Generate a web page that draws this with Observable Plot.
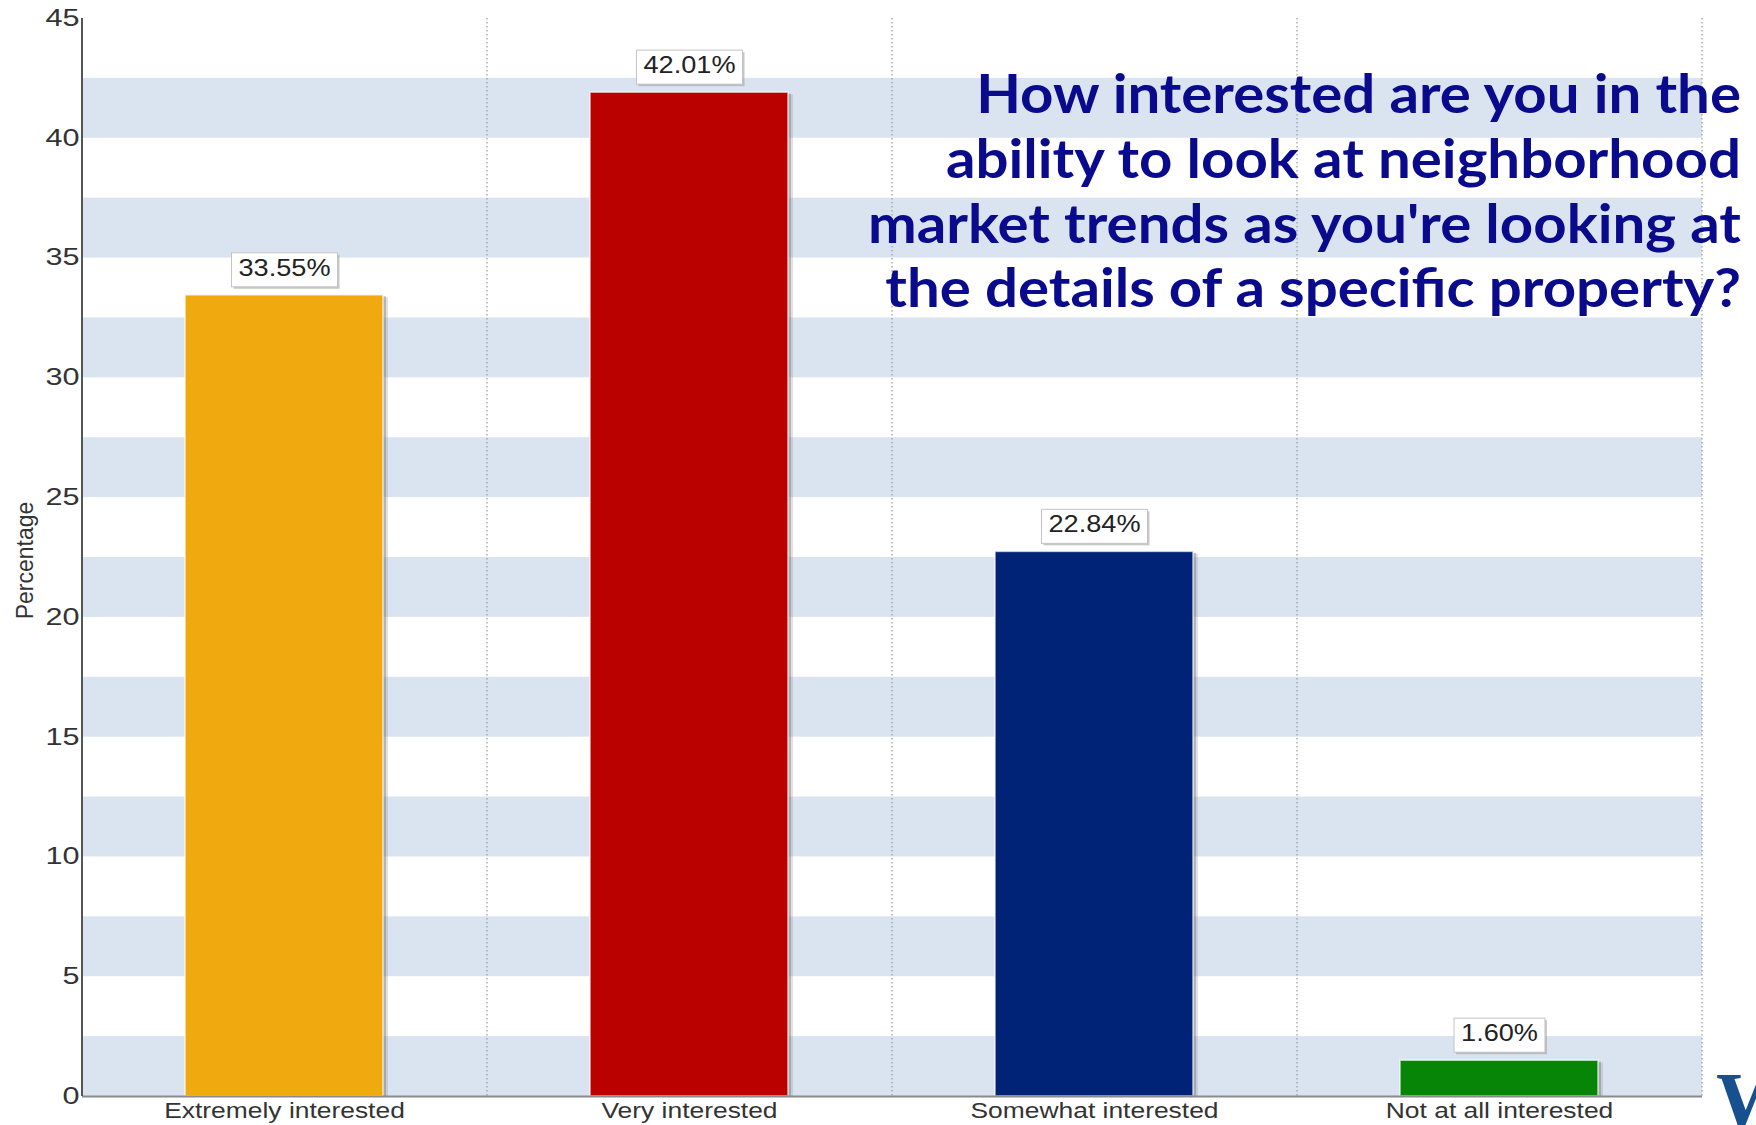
<!DOCTYPE html>
<html><head><meta charset="utf-8">
<script src="https://cdn.jsdelivr.net/npm/d3@7"></script>
<script src="https://cdn.jsdelivr.net/npm/@observablehq/plot@0.6"></script>
<style>
html,body{margin:0;padding:0;background:#fff;}
#wrap{position:relative;width:1756px;height:1125px;overflow:hidden;}
#wrap svg{display:block;}
#overlay{position:absolute;left:0;top:0;pointer-events:none;}
</style></head><body>
<div id="wrap"></div>
<script>
const categories = ["Extremely interested", "Very interested", "Somewhat interested", "Not at all interested"];
const values = [33.55, 42.01, 22.84, 1.60];
const barColors = ["#F0AA0F", "#BB0000", "#002378", "#078507"];
const yTicks = [0, 5, 10, 15, 20, 25, 30, 35, 40, 45];
const stripeStarts = [0, 5, 10, 15, 20, 25, 30, 35, 40];
const stripeHeight = 2.5;
const yLabel = "Percentage";
const titleLines = [
  "How interested are you in the",
  "ability to look at neighborhood",
  "market trends as you're looking at",
  "the details of a specific property?"
];
const logoText = "W";

const data = categories.map((c, i) => ({category: c, value: values[i], color: barColors[i], label: values[i].toFixed(2) + "%"}));

// shift a band-positioned rule to a band boundary (in multiples of the band step)
function shiftToBoundary(steps) {
  return (index, scales, vals, dims, ctx, next) => {
    const step = scales.x(categories[1]) - scales.x(categories[0]);
    const x = Array.from(vals.x, v => v + step * steps);
    return next(index, scales, {...vals, x}, dims, ctx);
  };
}

const chart = Plot.plot({
  width: 1756, height: 1125,
  marginTop: 18, marginBottom: 29, marginLeft: 82, marginRight: 54,
  style: {fontFamily: "'Liberation Sans', Arial, sans-serif", background: "transparent"},
  x: {type: "band", domain: categories, paddingInner: 0.51, paddingOuter: 0.255},
  y: {domain: [0, 45]},
  color: {type: "identity"},
  marks: [
    Plot.rect(stripeStarts, {y1: d => d, y2: d => d + stripeHeight, fill: "#D9E4F0"}),
    Plot.ruleX(categories, {x: d => d, stroke: "#9a9a9a", strokeDasharray: "1.5 2.5", strokeWidth: 1.2, render: shiftToBoundary(0.5)}),
    Plot.barY(data, {x: "category", y: "value", fill: "#666", fillOpacity: 0.38, dx: 3, insetTop: 4}),
    Plot.barY(data, {x: "category", y: "value", fill: "#888", fillOpacity: 0.25, dx: 5, insetTop: 5}),
    Plot.barY(data, {x: "category", y: "value", fill: "color", stroke: "#ffffff", strokeOpacity: 0.65, strokeWidth: 1.6, insetTop: 2.5}),
    Plot.text(data, {x: "category", y: "value", text: "label", lineAnchor: "bottom", dy: -17, fontSize: 24, fill: "#222"}),
    Plot.ruleY([0], {stroke: "#8a8a8a", strokeWidth: 2}),
    Plot.ruleX([categories[0]], {x: d => d, stroke: "#555", strokeWidth: 2, render: shiftToBoundary(-0.5)}),
    Plot.axisY({ticks: yTicks, tickSize: 0, tickPadding: 3, fontSize: 23, label: null, color: "#333"}),
    Plot.axisX({tickSize: 0, tickPadding: 6, fontSize: 22, label: null, color: "#333"}),
    Plot.text([yLabel], {frameAnchor: "left", rotate: -90, dx: -50, dy: 3, textAnchor: "middle", lineAnchor: "bottom", fontSize: 23, fill: "#333"})
  ]
});

const wrap = document.getElementById("wrap");
wrap.append(chart);

const ns = "http://www.w3.org/2000/svg";
const root = d3.select(chart);
function stretch(sel, k) {
  sel.each(function() {
    const w = this.getComputedTextLength();
    this.setAttribute("textLength", (w * k).toFixed(2));
    this.setAttribute("lengthAdjust", "spacingAndGlyphs");
  });
}
const labelSet = new Set(data.map(d => d.label));
const valueTexts = root.selectAll("text").filter(function() { return labelSet.has(this.textContent); });
stretch(root.selectAll('g[aria-label="y-axis tick label"] text'), 1.33);
stretch(root.selectAll('g[aria-label="x-axis tick label"] text'), 1.2);
stretch(valueTexts, 1.13);

valueTexts.each(function() {
  const w = +this.getAttribute("textLength");
  const b = this.getBBox();
  const g = this.parentNode;
  const tr = this.getAttribute("transform");
  const tx = this.getAttribute("x");
  const pad = 7;
  const x = -w / 2 - pad + (tx ? +tx : 0), y = b.y - 1, W = w + 2 * pad, H = b.height + 7;
  const sh = document.createElementNS(ns, "rect");
  sh.setAttribute("x", x + 2); sh.setAttribute("y", y + 2);
  sh.setAttribute("width", W); sh.setAttribute("height", H);
  sh.setAttribute("fill", "#9a9a9a"); sh.setAttribute("fill-opacity", "0.55");
  sh.setAttribute("stroke", "none");
  const box = document.createElementNS(ns, "rect");
  box.setAttribute("x", x); box.setAttribute("y", y);
  box.setAttribute("width", W); box.setAttribute("height", H);
  box.setAttribute("fill", "#ffffff"); box.setAttribute("stroke", "#c4c4c4"); box.setAttribute("stroke-width", "1");
  if (tr) { sh.setAttribute("transform", tr); box.setAttribute("transform", tr); }
  g.insertBefore(sh, this);
  g.insertBefore(box, this);
});

// Title + logo overlay
const ov = d3.select(wrap).append("svg").attr("id", "overlay").attr("width", 1756).attr("height", 1125);
const tl = ov.selectAll("text.t").data(titleLines).join("text")
  .attr("class", "t")
  .attr("x", 1741).attr("y", (d, i) => 113 + i * 64.8)
  .attr("text-anchor", "end")
  .attr("font-family", "Lato, 'Open Sans', sans-serif")
  .attr("font-weight", 700).attr("font-size", 53)
  .attr("fill", "#0A0A8C")
  .text(d => d);
const nat = tl.nodes().map(n => n.getComputedTextLength());
const k = 873 / nat[2];
tl.each(function(d, i) {
  this.setAttribute("textLength", (nat[i] * k).toFixed(2));
  this.setAttribute("lengthAdjust", "spacingAndGlyphs");
});
ov.append("text").attr("x", 1716).attr("y", 1128)
  .attr("font-family", "'Liberation Serif', serif").attr("font-weight", 700).attr("font-size", 80)
  .attr("fill", "#17508F").text(logoText);
</script>
</body></html>
